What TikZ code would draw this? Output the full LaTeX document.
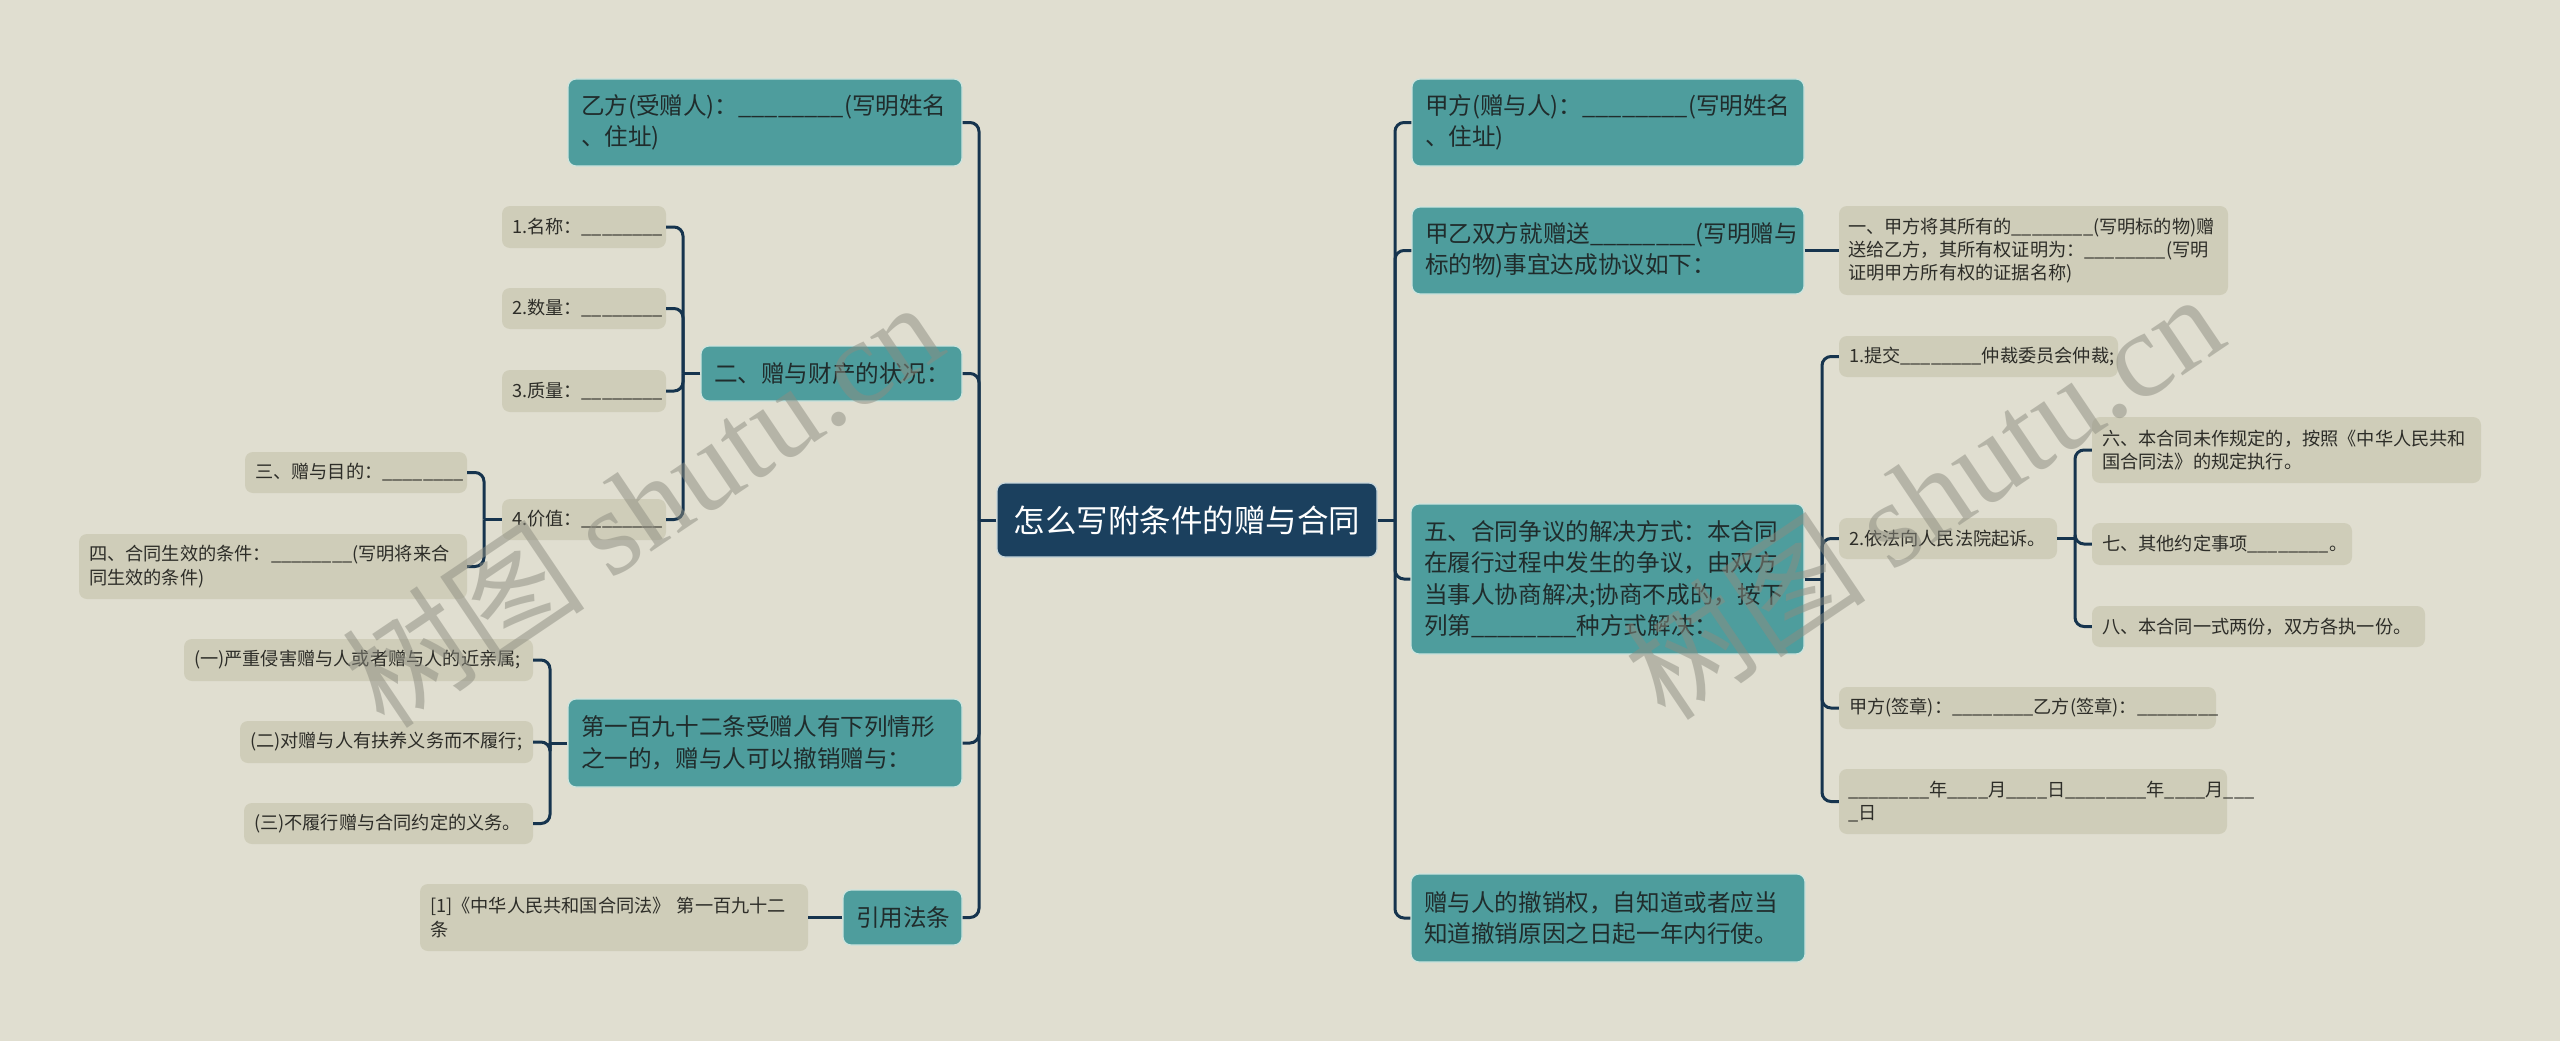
\documentclass[tikz,border=0pt]{standalone}
\usepackage{fontspec}
\setmainfont{Noto Sans CJK SC}
\newfontfamily\wmlat{Liberation Serif}
\definecolor{bgc}{RGB}{224,222,208}
\definecolor{tealc}{RGB}{78,157,157}
\definecolor{tealb}{RGB}{205,228,222}
\definecolor{tealt}{RGB}{32,44,44}
\definecolor{leafc}{RGB}{207,205,185}
\definecolor{leaft}{RGB}{45,45,40}
\definecolor{rootc}{RGB}{27,64,94}
\definecolor{rootb}{RGB}{200,215,220}
\definecolor{linec}{RGB}{22,52,78}
\definecolor{wmc}{RGB}{140,140,128}
\newcommand\blk{\_\_\_\_\_\_\_\_}
\newcommand\bx[8]{%
  \pgfmathsetmacro\mybw{#5-#3}%
  \pgfmathsetmacro\mybh{#6-#4}%
  \pgfmathsetmacro\mytw{#5-#3-2*#7}%
  \node[#2, minimum width=\mybw pt, minimum height=\mybh pt, text width=\mytw pt,
        inner xsep=#7pt, inner ysep=0pt] (#1) at ({(#3+#5)/2},{(#4+#6)/2}) {#8};}
\tikzset{
  tealbox/.style={fill=tealc, draw=tealb, line width=1.2pt, rounded corners=8pt,
    text=tealt, align=left, font=\fontsize{23.6}{31.5}\selectfont},
  leafbox/.style={fill=leafc, rounded corners=8pt, text=leaft, align=left,
    font=\fontsize{18.2}{23.3}\selectfont},
  rootbox/.style={fill=rootc, draw=rootb, line width=1.2pt, rounded corners=8pt,
    text=white, align=center, font=\fontsize{31.5}{36}\selectfont},
  conn/.style={draw=linec, line width=3pt},
  elbow/.style={draw=linec, line width=3pt, rounded corners=9pt},
  wm/.style={text=wmc, opacity=0.5, font=\fontsize{122}{122}\selectfont, inner sep=0pt}
}
\begin{document}
\begin{tikzpicture}[x=1pt,y=-1pt]
\fill[bgc] (0,0) rectangle (2560,1041);
\useasboundingbox (0,0) rectangle (2560,1041);

% root
\bx{c}{rootbox}{997}{483}{1377}{557}{15}{怎么写附条件的赠与合同}

% left side
\bx{L1}{tealbox}{568}{79}{962}{166}{13}{乙方(受赠人)：\blk(写明姓名\\、住址)}
\bx{L2}{tealbox}{701}{346}{962}{401}{13}{二、赠与财产的状况：}
\bx{L2a}{leafbox}{502}{206}{666}{248}{10}{1.名称：\blk}
\bx{L2b}{leafbox}{502}{288}{666}{329}{10}{2.数量：\blk}
\bx{L2c}{leafbox}{502}{370}{666}{412}{10}{3.质量：\blk}
\bx{L2d}{leafbox}{502}{499}{666}{540}{10}{4.价值：\blk}
\bx{L2d1}{leafbox}{245}{452}{467}{493}{10}{三、赠与目的：\blk}
\bx{L2d2}{leafbox}{79}{534}{467}{599}{10}{四、合同生效的条件：\blk(写明将来合\\同生效的条件)}
\bx{L3}{tealbox}{568}{699}{962}{787}{13}{第一百九十二条受赠人有下列情形\\之一的，赠与人可以撤销赠与：}
\bx{L3a}{leafbox}{184}{639}{533}{681}{10}{(一)严重侵害赠与人或者赠与人的近亲属;}
\bx{L3b}{leafbox}{240}{721}{533}{763}{10}{(二)对赠与人有扶养义务而不履行;}
\bx{L3c}{leafbox}{244}{803}{533}{844}{10}{(三)不履行赠与合同约定的义务。}
\bx{L4}{tealbox}{843}{890}{962}{945}{13}{引用法条}
\bx{L4a}{leafbox}{420}{884}{808}{951}{10}{[1]《中华人民共和国合同法》 第一百九十二\\条}

% right side
\bx{R1}{tealbox}{1412}{79}{1804}{166}{13}{甲方(赠与人)：\blk(写明姓名\\、住址)}
\bx{R2}{tealbox}{1412}{207}{1804}{294}{13}{甲乙双方就赠送\blk(写明赠与\\标的物)事宜达成协议如下：}
\bx{R2a}{leafbox}{1839}{206}{2228}{295}{9}{一、甲方将其所有的\blk(写明标的物)赠\\送给乙方，其所有权证明为：\blk(写明\\证明甲方所有权的证据名称)}
\bx{R3}{tealbox}{1411}{504}{1804}{654}{13}{五、合同争议的解决方式：本合同\\在履行过程中发生的争议，由双方\\当事人协商解决;协商不成的，按下\\列第\blk 种方式解决：}
\bx{R3a}{leafbox}{1839}{336}{2118}{377}{10}{1.提交\blk 仲裁委员会仲裁;}
\bx{R3b}{leafbox}{1839}{518}{2057}{559}{10}{2.依法向人民法院起诉。}
\bx{R3b1}{leafbox}{2092}{417}{2481}{483}{10}{六、本合同未作规定的，按照《中华人民共和\\国合同法》的规定执行。}
\bx{R3b2}{leafbox}{2092}{523}{2352}{565}{10}{七、其他约定事项\blk 。}
\bx{R3b3}{leafbox}{2092}{606}{2425}{647}{10}{八、本合同一式两份，双方各执一份。}
\bx{R3c}{leafbox}{1839}{687}{2216}{729}{10}{甲方(签章)：\blk 乙方(签章)：\blk}
\bx{R3d}{leafbox}{1839}{769}{2227}{834}{9}{\blk 年\_\_\_\_月\_\_\_\_日\blk 年\_\_\_\_月\_\_\_\\\_日}
\bx{R4}{tealbox}{1411}{874}{1805}{962}{13}{赠与人的撤销权，自知道或者应当\\知道撤销原因之日起一年内行使。}

% trunk points
\coordinate (tL) at (979,520);
\coordinate (tR) at (1395,520);
\coordinate (t2) at (683,373.5);
\coordinate (t2d) at (484,519.5);
\coordinate (t3) at (550,743);
\coordinate (t5) at (1822,579);
\coordinate (t5b) at (2075,538.5);

% connectors
\draw[conn] (c.west) -- (tL);
\foreach \n in {L1,L2,L3,L4} \draw[elbow] (tL) |- (\n.east);
\draw[conn] (c.east) -- (tR);
\foreach \n in {R1,R2,R3,R4} \draw[elbow] (tR) |- (\n.west);
\draw[conn] (L2.west) -- (t2);
\foreach \n in {L2a,L2b,L2c,L2d} \draw[elbow] (t2) |- (\n.east);
\draw[conn] (L2d.west) -- (t2d);
\foreach \n in {L2d1,L2d2} \draw[elbow] (t2d) |- (\n.east);
\draw[conn] (L3.west) -- (t3);
\foreach \n in {L3a,L3b,L3c} \draw[elbow] (t3) |- (\n.east);
\draw[conn] (L4.west) -- (L4a.east);
\draw[conn] (R2.east) -- (R2a.west);
\draw[conn] (R3.east) -- (t5);
\foreach \n in {R3a,R3b,R3c,R3d} \draw[elbow] (t5) |- (\n.west);
\draw[conn] (R3b.east) -- (t5b);
\foreach \n in {R3b1,R3b2,R3b3} \draw[elbow] (t5b) |- (\n.west);

% watermarks
\node[wm, rotate=34] (wm1) at (642,503) {树图 {\wmlat shutu.cn}};
\node[wm, rotate=34] (wm2) at (1923,495) {树图 {\wmlat shutu.cn}};
\end{tikzpicture}
\end{document}
